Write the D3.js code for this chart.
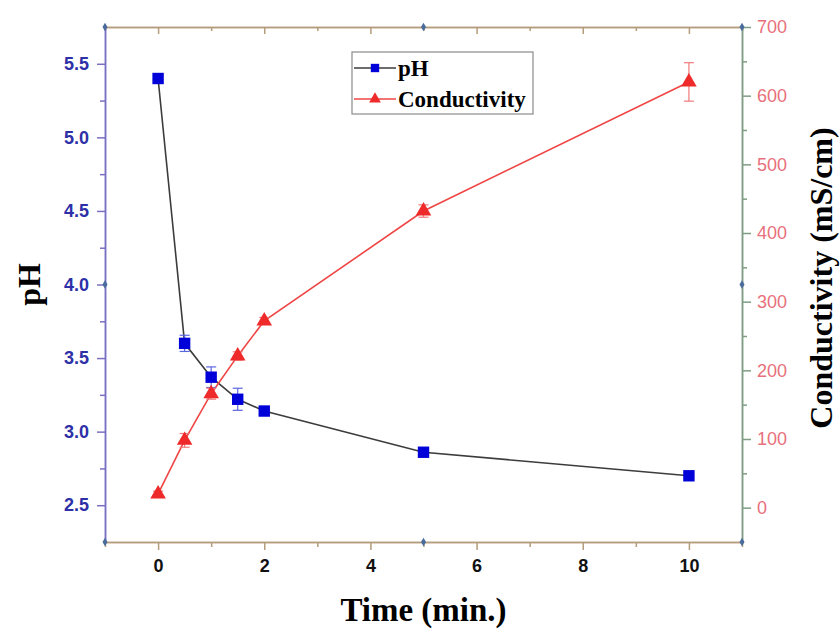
<!DOCTYPE html>
<html>
<head>
<meta charset="utf-8">
<script src="https://cdn.jsdelivr.net/npm/d3@7"></script>
<style>
  body { margin: 0; background: #fff; }
  svg { display: block; }
</style>
</head>
<body>
<svg id="chart" width="840" height="630"></svg>
<script>
// values
var time = [0, 0.5, 1, 1.5, 2, 5, 10];
var pH = [5.40, 3.60, 3.37, 3.22, 3.14, 2.86, 2.70];
var pHErr = [0.01, 0.055, 0.07, 0.075, 0.02, 0.02, 0.01];
var conductivity = [20, 98, 166, 221, 272, 432, 620];
var condErr = [4, 10, 8, 6, 5, 9, 28];
var xTicks = [0, 2, 4, 6, 8, 10];
var pHTicks = [2.5, 3.0, 3.5, 4.0, 4.5, 5.0, 5.5];
var condTicks = [0, 100, 200, 300, 400, 500, 600, 700];

var svg = d3.select("#chart"),
  pLeft = 105, pRight = 742, pTop = 27, pBottom = 542,
  x = d3.scaleLinear().domain([-1, 11]).range([pLeft, pRight]),
  yL = d3.scaleLinear().domain([2.25, 5.75]).range([pBottom, pTop]),
  yR = d3.scaleLinear().domain([-50, 700]).range([pBottom, pTop]),
  sans = "'Liberation Sans', Arial, sans-serif",
  serif = "'Liberation Serif', 'Times New Roman', serif";

var minorX = d3.range(-1, 12, 2),
  minorL = d3.range(2.75, 5.75, 0.5),
  minorR = d3.range(50, 700, 100);

function styleAxis(g, color, labelColor, weight) {
  g.select(".domain").attr("stroke", color).attr("stroke-width", 1.5);
  g.selectAll(".tick line").attr("stroke", color).attr("stroke-width", 1.5);
  g.selectAll(".tick text")
    .attr("fill", labelColor)
    .style("font-family", sans)
    .style("font-size", "18px")
    .style("font-weight", weight);
}

// minor ticks first, majors drawn over
svg.append("g")
  .attr("transform", "translate(0," + pBottom + ")")
  .call(d3.axisBottom(x).tickValues(minorX).tickSize(5).tickSizeOuter(0).tickFormat(""))
  .call(styleAxis, "#b49c7c", "#000", "bold");
svg.append("g")
  .attr("transform", "translate(0," + pBottom + ")")
  .call(d3.axisBottom(x).tickValues(xTicks).tickSize(8).tickSizeOuter(0).tickPadding(9))
  .call(styleAxis, "#b49c7c", "#111", "bold");

// top axis, ticks pointing inward
svg.append("g")
  .attr("transform", "translate(0," + pTop + ")")
  .call(d3.axisBottom(x).tickValues(minorX).tickSize(4).tickSizeOuter(0).tickFormat(""))
  .call(styleAxis, "#b49c7c", "#000", "bold");
svg.append("g")
  .attr("transform", "translate(0," + pTop + ")")
  .call(d3.axisBottom(x).tickValues(xTicks).tickSize(7).tickSizeOuter(0).tickFormat(""))
  .call(styleAxis, "#b49c7c", "#000", "bold");

svg.append("g")
  .attr("transform", "translate(" + pLeft + ",0)")
  .call(d3.axisLeft(yL).tickValues(minorL).tickSize(5).tickSizeOuter(0).tickFormat(""))
  .call(styleAxis, "#7b6fc2", "#000", "bold");
svg.append("g")
  .attr("transform", "translate(" + pLeft + ",0)")
  .call(d3.axisLeft(yL).tickValues(pHTicks).tickSize(8).tickSizeOuter(0).tickPadding(8).tickFormat(d3.format(".1f")))
  .call(styleAxis, "#7b6fc2", "#2e30a8", "bold");

svg.append("g")
  .attr("transform", "translate(" + pRight + ",0)")
  .call(d3.axisRight(yR).tickValues(minorR).tickSize(5).tickSizeOuter(0).tickFormat(""))
  .call(styleAxis, "#7f9d84", "#000", "normal");
svg.append("g")
  .attr("transform", "translate(" + pRight + ",0)")
  .call(d3.axisRight(yR).tickValues(condTicks).tickSize(9).tickSizeOuter(0).tickPadding(6))
  .call(styleAxis, "#7f9d84", "#e8707c", "normal");

// small diamonds at the corners and the middle of each side
var diamonds = [
  [x(-1), pTop], [x(5), pTop], [x(11), pTop],
  [x(-1), pBottom], [x(5), pBottom], [x(11), pBottom],
  [x(-1), yL(4.0)], [x(11), yR(325)]
];
svg.append("g").selectAll("path")
  .data(diamonds)
  .enter().append("path")
  .attr("transform", function(d) { return "translate(" + d[0] + "," + d[1] + ")"; })
  .attr("d", d3.symbol(d3.symbolDiamond, 22))
  .attr("fill", "#4a6c9c");

var data = time.map(function(t, i) {
  return { t: t, ph: pH[i], phErr: pHErr[i], c: conductivity[i], cErr: condErr[i] };
});

var plot = svg.append("g");

plot.append("path")
  .datum(data)
  .attr("fill", "none")
  .attr("stroke", "#3c3c3c")
  .attr("stroke-width", 1.6)
  .attr("d", d3.line().x(function(d) { return x(d.t); }).y(function(d) { return yL(d.ph); }));

plot.append("path")
  .datum(data)
  .attr("fill", "none")
  .attr("stroke", "#f04545")
  .attr("stroke-width", 1.6)
  .attr("d", d3.line().x(function(d) { return x(d.t); }).y(function(d) { return yR(d.c); }));

function errorBars(g, getLo, getHi, color) {
  var bars = g.append("g").selectAll("g")
    .data(data)
    .enter().append("g")
    .attr("stroke", color)
    .attr("stroke-width", 1.2);
  bars.append("line")
    .attr("x1", function(d) { return x(d.t); })
    .attr("x2", function(d) { return x(d.t); })
    .attr("y1", getLo)
    .attr("y2", getHi);
  bars.append("line")
    .attr("x1", function(d) { return x(d.t) - 5; })
    .attr("x2", function(d) { return x(d.t) + 5; })
    .attr("y1", getLo)
    .attr("y2", getLo);
  bars.append("line")
    .attr("x1", function(d) { return x(d.t) - 5; })
    .attr("x2", function(d) { return x(d.t) + 5; })
    .attr("y1", getHi)
    .attr("y2", getHi);
}

errorBars(plot,
  function(d) { return yL(d.ph - d.phErr); },
  function(d) { return yL(d.ph + d.phErr); }, "#5a66e0");
errorBars(plot,
  function(d) { return yR(d.c - d.cErr); },
  function(d) { return yR(d.c + d.cErr); }, "#f07a7a");

plot.append("g").selectAll("path")
  .data(data)
  .enter().append("path")
  .attr("transform", function(d) { return "translate(" + x(d.t) + "," + yL(d.ph) + ")"; })
  .attr("d", d3.symbol(d3.symbolSquare, 130))
  .attr("fill", "#0000d8");

plot.append("g").selectAll("path")
  .data(data)
  .enter().append("path")
  .attr("transform", function(d) { return "translate(" + x(d.t) + "," + yR(d.c) + ")"; })
  .attr("d", d3.symbol(d3.symbolTriangle, 105))
  .attr("fill", "#ee2a2a");

// axis titles
svg.append("text")
  .attr("transform", "translate(40," + yL(4.0) + ") rotate(-90)")
  .attr("text-anchor", "middle")
  .style("font-family", serif)
  .style("font-weight", "bold")
  .style("font-size", "32px")
  .text("pH");

svg.append("text")
  .attr("transform", "translate(832,278) rotate(-90)")
  .attr("text-anchor", "middle")
  .style("font-family", serif)
  .style("font-weight", "bold")
  .style("font-size", "32px")
  .text("Conductivity (mS/cm)");

svg.append("text")
  .attr("x", x(5))
  .attr("y", 621)
  .attr("text-anchor", "middle")
  .style("font-family", serif)
  .style("font-weight", "bold")
  .style("font-size", "33px")
  .text("Time (min.)");

// legend
var legend = svg.append("g").attr("transform", "translate(352,52)");
legend.append("rect")
  .attr("width", 181).attr("height", 62)
  .attr("fill", "#fff").attr("stroke", "#8a8a8a").attr("stroke-width", 1.2);

var legendItems = [
  { name: "pH", line: "#3c3c3c", mark: d3.symbolSquare, size: 70, fill: "#0000d8" },
  { name: "Conductivity", line: "#f04545", mark: d3.symbolTriangle, size: 60, fill: "#ee2a2a" }
];
var item = legend.selectAll("g.item")
  .data(legendItems)
  .enter().append("g")
  .attr("class", "item")
  .attr("transform", function(d, i) { return "translate(0," + (16 + i * 31) + ")"; });
item.append("line")
  .attr("x1", 2).attr("x2", 44)
  .attr("stroke", function(d) { return d.line; })
  .attr("stroke-width", 1.6);
item.append("path")
  .attr("transform", "translate(23,0)")
  .attr("d", function(d) { return d3.symbol(d.mark, d.size)(); })
  .attr("fill", function(d) { return d.fill; });
item.append("text")
  .attr("x", 46)
  .attr("dy", "0.35em")
  .style("font-family", serif)
  .style("font-weight", "bold")
  .style("font-size", "23px")
  .text(function(d) { return d.name; });
</script>
</body>
</html>
